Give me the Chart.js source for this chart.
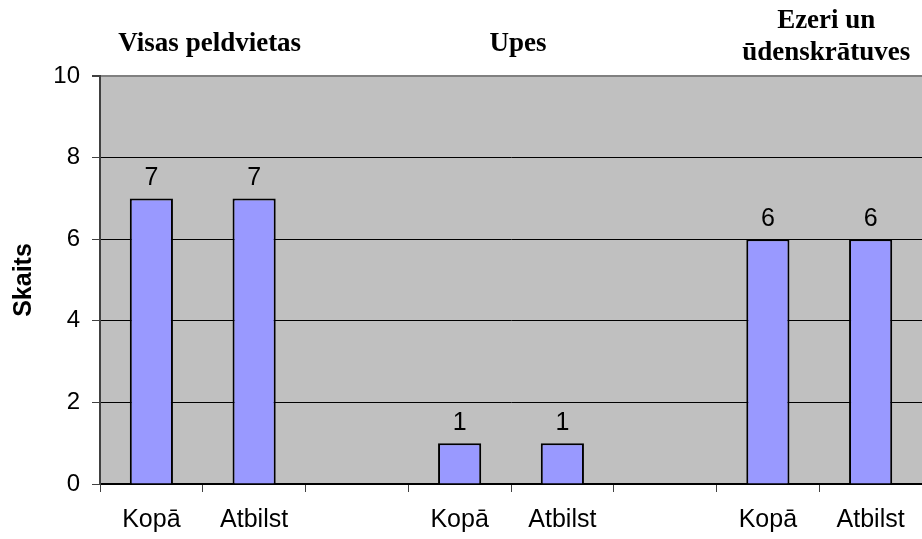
<!DOCTYPE html>
<html>
<head>
<meta charset="utf-8">
<script src="https://cdn.jsdelivr.net/npm/chart.js@4"></script>
<style>
  html, body { margin: 0; padding: 0; background: #fff; }
  #wrap { width: 922px; height: 539px; }
</style>
</head>
<body>
<div id="wrap"><canvas id="swimChart"></canvas></div>
<script>
// categories along the x axis (empty ones are gaps between groups)
const categories = ['Kopā', 'Atbilst', '', 'Kopā', 'Atbilst', '', 'Kopā', 'Atbilst'];
// number of bathing sites
const counts = [7, 7, null, 1, 1, null, 6, 6];
// group headings and which categories they sit over
const groupTitles = [['Visas peldvietas'], ['Upes'], ['Ezeri un', 'ūdenskrātuves']];
const groupMembers = [[0, 1], [3, 4], [6, 7]];
const yMin = 0, yMax = 10, yStep = 2;

const sans = '"Liberation Sans", Arial, sans-serif';
const serif = '"Liberation Serif", "Times New Roman", serif';

// grey plot area
const plotBackground = {
  id: 'plotBackground',
  beforeDraw(chart) {
    const a = chart.chartArea, c = chart.ctx;
    c.save();
    c.fillStyle = '#C0C0C0';
    c.fillRect(a.left, a.top, a.right - a.left, a.bottom - a.top);
    c.restore();
  }
};

// value above each bar + group headings
const labels = {
  id: 'labels',
  afterDatasetsDraw(chart) {
    const c = chart.ctx;
    c.save();
    c.fillStyle = '#000';
    c.textAlign = 'center';
    c.textBaseline = 'alphabetic';
    c.font = '25px ' + sans;
    chart.getDatasetMeta(0).data.forEach((bar, i) => {
      if (counts[i] == null) return;
      c.fillText(String(counts[i]), bar.x, bar.y - 13);
    });

    const x = chart.scales.x;
    c.font = 'bold 27px ' + serif;
    groupTitles.forEach((lines, g) => {
      const ids = groupMembers[g];
      const cx = ids.reduce((s, k) => s + x.getPixelForValue(k), 0) / ids.length + 7;
      const base = lines.length === 1 ? 51 : 28;
      lines.forEach((t, j) => c.fillText(t, cx, base + j * 32));
    });
    c.restore();
  }
};

new Chart(document.getElementById('swimChart'), {
  type: 'bar',
  data: {
    labels: categories,
    datasets: [{
      data: counts,
      backgroundColor: '#9999FF',
      borderColor: '#000',
      borderWidth: 2,
      barPercentage: 0.42,
      categoryPercentage: 1
    }]
  },
  options: {
    responsive: true,
    maintainAspectRatio: false,
    animation: false,
    layout: { padding: { top: 76, left: 0, right: 0, bottom: 0 } },
    plugins: {
      legend: { display: false },
      tooltip: { enabled: false }
    },
    scales: {
      x: {
        afterFit(s) { s.height = 55; },
        grid: {
          drawOnChartArea: false,
          drawTicks: true,
          tickLength: 8,
          color: '#404040'
        },
        border: { color: '#000', width: 2 },
        ticks: {
          color: '#000',
          font: { family: sans, size: 25 },
          padding: 13,
          maxRotation: 0,
          autoSkip: false
        }
      },
      y: {
        min: yMin,
        max: yMax,
        afterFit(s) { s.width = 100; },
        grid: {
          color: ctx => ctx.tick && ctx.tick.value === yMax ? '#808080' : '#000',
          lineWidth: ctx => ctx.tick && ctx.tick.value === yMax ? 2 : 1,
          tickColor: '#404040',
          tickLength: 8
        },
        border: { color: '#404040', width: 2 },
        ticks: {
          stepSize: yStep,
          color: '#000',
          padding: 12,
          font: { family: sans, size: 24 }
        },
        title: {
          display: true,
          text: 'Skaits',
          color: '#000',
          font: { family: sans, size: 25, weight: 'bold' },
          padding: { top: 9, bottom: 0 }
        }
      }
    }
  },
  plugins: [plotBackground, labels]
});
</script>
</body>
</html>
